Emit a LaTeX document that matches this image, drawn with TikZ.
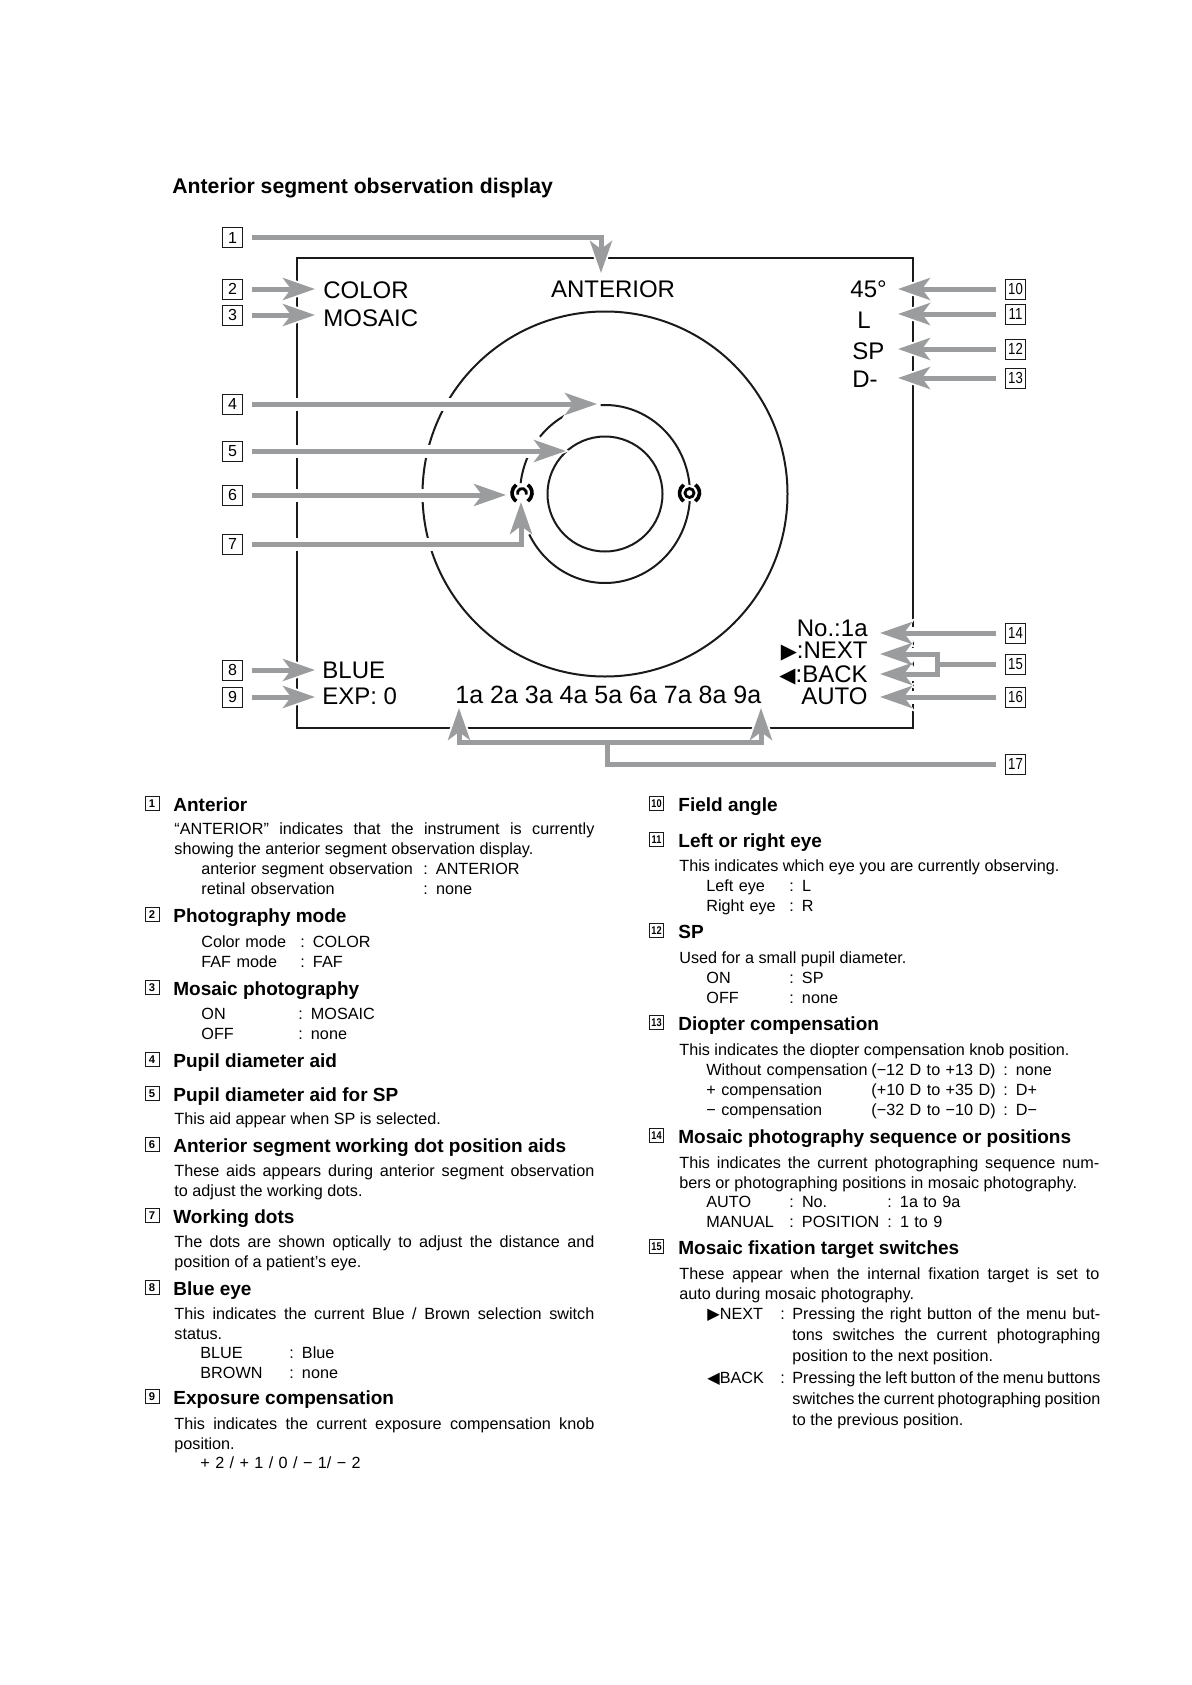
\documentclass[tikz,border=0pt]{standalone}
\usepackage{fontspec}
\setmainfont{Liberation Sans}
\newfontfamily\symfont{DejaVu Sans}
\usepackage{graphicx}
\usepackage{xcolor}
\usepackage{tikz}
\usetikzlibrary{arrows.meta,calc}
\definecolor{pointgray}{HTML}{9A9C9E}
\definecolor{ink}{HTML}{1A1A1A}
\newcommand{\fsz}[2]{\fontsize{#1}{#2}\selectfont}
\newcommand{\twodig}[1]{\scalebox{0.82}[1]{#1}}

\begin{document}
\begin{tikzpicture}[x=0.5pt,y=-0.5pt,
  numbox/.style={draw=ink,line width=0.5pt,minimum width=10pt,minimum height=10pt,inner sep=0pt,font=\fsz{8}{9}},
  secbox/.style={draw=ink,line width=0.5pt,minimum size=7pt,inner sep=0pt,anchor=south,font=\bfseries\fsz{5.6}{6}},
  screen/.style={inner sep=0pt,font=\fsz{12}{14}},
  head/.style={anchor=base west,inner sep=0pt,font=\bfseries\fsz{9.5}{11}},
  body/.style={anchor=base west,inner sep=0pt,text width=210pt,align=justify,font=\fsz{8.1}{10}},
  sub/.style={anchor=base west,inner sep=0pt,text width=200pt,align=left,font=\fsz{8.1}{10}},
  hang/.style={body,text width=154pt,font=\fsz{8.1}{10.5}},
  ring/.style={draw=ink,line width=1pt},
  halo/.style={draw=white,line width=6.5pt,shorten <=4.5pt,shorten >=-2pt,-{Stealth[length=19pt,width=14pt,inset=4pt]}},
  pointer/.style={draw=pointgray,line width=2.5pt,shorten <=4.5pt,-{Stealth[length=16pt,width=11pt,inset=4pt]}}]
  % page
  \fill[white] (0,0) rectangle (1191,1685);
  \useasboundingbox (0,0) rectangle (1191,1685);
  \node[anchor=base west,inner sep=0pt,font=\bfseries\fsz{10.6}{12}] (title) at (172,194) {Anterior segment observation display};

  % screen frame and rings
  \draw[draw=ink,line width=1.3pt] (297,258) rectangle (913,728);
  \coordinate (eye) at (605,494);
  \draw[ring] (eye) circle (182.5);
  \draw[ring] (eye) circle (57.5);
  \draw[ring] (eye) ++(-93:85 and 89) arc[start angle=-93,end angle=153,x radius=85,y radius=89];
  \draw[ring] (eye) ++(-140:85 and 89) arc[start angle=-140,end angle=-116,x radius=85,y radius=89];
  \draw[ring] (eye) ++(-173:85 and 89) arc[start angle=-173,end angle=-155,x radius=85,y radius=89];
  \coordinate (dotL) at (522,493);
  \coordinate (dotR) at (689.5,493);

  % callout numbers
  \node[numbox] (n1) at (232.5,238) {1};
  \node[numbox] (n2) at (232.5,289) {2};
  \node[numbox] (n3) at (232.5,315) {3};
  \node[numbox] (n4) at (232.5,404) {4};
  \node[numbox] (n5) at (232.5,451) {5};
  \node[numbox] (n6) at (232.5,495) {6};
  \node[numbox] (n7) at (232.5,544) {7};
  \node[numbox] (n8) at (232.5,670) {8};
  \node[numbox] (n9) at (232.5,697) {9};
  \node[numbox] (n10) at (1015.5,289) {\twodig{10}};
  \node[numbox] (n11) at (1015.5,314) {\twodig{11}};
  \node[numbox] (n12) at (1015.5,349) {\twodig{12}};
  \node[numbox] (n13) at (1015.5,378) {\twodig{13}};
  \node[numbox] (n14) at (1015.5,633) {\twodig{14}};
  \node[numbox] (n15) at (1015.5,664) {\twodig{15}};
  \node[numbox] (n16) at (1015.5,697) {\twodig{16}};
  \node[numbox] (n17) at (1015.5,764) {\twodig{17}};

  % arrow tips
  \coordinate (t1) at (601,273);
  \coordinate (t2) at (315,289);
  \coordinate (t3) at (315,315);
  \coordinate (t4) at (597,404);
  \coordinate (t5) at (566,451);
  \coordinate (t6) at (506,495);
  \coordinate (t7) at (521,502);
  \coordinate (t8) at (315,670);
  \coordinate (t9) at (315,697);
  \coordinate (t10) at (898,289);
  \coordinate (t11) at (898,314);
  \coordinate (t12) at (898,349);
  \coordinate (t13) at (898,378);
  \coordinate (t14) at (880,633);
  \coordinate (j15) at (937,664);
  \coordinate (t15a) at (880,654);
  \coordinate (t15b) at (880,674);
  \coordinate (t16) at (880,697);
  \coordinate (j17) at (607,742);
  \coordinate (t17a) at (459,708);
  \coordinate (t17b) at (761,708);

  % leaders: white gap first, grey arrow on top
  \foreach \layer in {halo,pointer}{
    \draw[\layer] (n1.east) -| (t1);
    \draw[\layer] (n2.east) -- (t2);
    \draw[\layer] (n3.east) -- (t3);
    \draw[\layer] (n4.east) -- (t4);
    \draw[\layer] (n5.east) -- (t5);
    \draw[\layer] (n6.east) -- (t6);
    \draw[\layer] (n7.east) -| (t7);
    \draw[\layer] (n8.east) -- (t8);
    \draw[\layer] (n9.east) -- (t9);
    \draw[\layer] (n10.west) -- (t10);
    \draw[\layer] (n11.west) -- (t11);
    \draw[\layer] (n12.west) -- (t12);
    \draw[\layer] (n13.west) -- (t13);
    \draw[\layer] (n14.west) -- (t14);
    \draw[\layer,-] (n15.west) -- (j15);
    \draw[\layer,shorten <=0pt] (j15) |- (t15a);
    \draw[\layer,shorten <=0pt] (j15) |- (t15b);
    \draw[\layer] (n16.west) -- (t16);
    \draw[\layer,-] (n17.west) -| (j17);
    \draw[\layer,shorten <=0pt] (j17) -| (t17a);
    \draw[\layer,shorten <=0pt] (j17) -| (t17b);
  }

  % working dots
  \draw[line width=1.8pt] (dotL) ++(125:10) arc[start angle=125,end angle=235,radius=10];
  \draw[line width=1.8pt] (dotL) ++(-55:10) arc[start angle=-55,end angle=55,radius=10];
  \draw[line width=1.4pt] (dotL) ++(20:4.5) arc[start angle=20,end angle=-200,radius=4.5];
  \fill[white] (dotR) circle (8);
  \draw[line width=1.8pt] (dotR) ++(125:10) arc[start angle=125,end angle=235,radius=10];
  \draw[line width=1.8pt] (dotR) ++(-55:10) arc[start angle=-55,end angle=55,radius=10];
  \draw[line width=1.4pt] (dotR) circle (4.5);

  % screen texts
  \node[screen,anchor=base] (anterior) at (613,297) {ANTERIOR};
  \node[screen,anchor=base west] (color) at (323,298) {COLOR};
  \node[screen,anchor=base west] (mosaic) at (323,326) {MOSAIC};
  \node[screen,anchor=base west] (angle) at (850,297) {45°};
  \node[screen,anchor=base west] (side) at (857,328) {L};
  \node[screen,anchor=base west] (smallp) at (852,359) {SP};
  \node[screen,anchor=base west] (diopter) at (852,387) {D-};
  \node[screen,anchor=base west] (blue) at (322,678) {BLUE};
  \node[screen,anchor=base west] (exp) at (322,704) {EXP: 0};
  \node[screen,anchor=base west,font=\fsz{12.5}{14}] (seq) at (455,703) {1a 2a 3a 4a 5a 6a 7a 8a 9a};
  \node[screen,anchor=base east] (no) at (868,636) {No.:1a};
  \node[screen,anchor=base east] (next) at (868,658) {{\symfont\fsz{10.5}{11}▶}:NEXT};
  \node[screen,anchor=base east] (back) at (868,682) {{\symfont\fsz{10.5}{11}◀}:BACK};
  \node[screen,anchor=base east] (auto) at (868,704) {AUTO};

  % key, left column
  \node[secbox] (s1) at (152,811) {1};
  \node[head] (h1) at (173,811) {Anterior};
  \node[body] (p1) at (174,834) {“ANTERIOR” indicates that the instrument is currently\linebreak showing the anterior segment observation display.};
  \node[sub] (q1) at (201,874) {\makebox[111pt][l]{anterior segment observation}: ANTERIOR\\\makebox[111pt][l]{retinal observation}: none};
  \node[secbox] (s2) at (152,922) {2};
  \node[head] (h2) at (173,922) {Photography mode};
  \node[sub] (q2) at (201,947) {\makebox[49.5pt][l]{Color mode}: COLOR\\\makebox[49.5pt][l]{FAF mode}: FAF};
  \node[secbox] (s3) at (152,995) {3};
  \node[head] (h3) at (173,995) {Mosaic photography};
  \node[sub] (q3) at (201,1019) {\makebox[48.5pt][l]{ON}: MOSAIC\\\makebox[48.5pt][l]{OFF}: none};
  \node[secbox] (s4) at (152,1067) {4};
  \node[head] (h4) at (173,1067) {Pupil diameter aid};
  \node[secbox] (s5) at (152,1101) {5};
  \node[head] (h5) at (173,1101) {Pupil diameter aid for SP};
  \node[body] (p5) at (174,1124) {This aid appear when SP is selected.};
  \node[secbox] (s6) at (152,1152) {6};
  \node[head] (h6) at (173,1152) {Anterior segment working dot position aids};
  \node[body] (p6) at (174,1176) {These aids appears during anterior segment observation\linebreak to adjust the working dots.};
  \node[secbox] (s7) at (152,1223) {7};
  \node[head] (h7) at (173,1223) {Working dots};
  \node[body] (p7) at (174,1247) {The dots are shown optically to adjust the distance and\linebreak position of a patient’s eye.};
  \node[secbox] (s8) at (152,1295) {8};
  \node[head] (h8) at (173,1295) {Blue eye};
  \node[body] (p8) at (174,1319) {This indicates the current Blue / Brown selection switch\linebreak status.};
  \node[sub] (q8) at (200,1358) {\makebox[44.5pt][l]{BLUE}: Blue\\\makebox[44.5pt][l]{BROWN}: none};
  \node[secbox] (s9) at (152,1404) {9};
  \node[head] (h9) at (173,1404) {Exposure compensation};
  \node[body] (p9) at (174,1429) {This indicates the current exposure compensation knob\linebreak position.};
  \node[sub] (q9) at (200,1468) {+ 2 / + 1 / 0 / − 1/ − 2};

  % key, right column
  \node[secbox] (s10) at (656.5,811) {\twodig{10}};
  \node[head] (h10) at (678,811) {Field angle};
  \node[secbox] (s11) at (656.5,847) {\twodig{11}};
  \node[head] (h11) at (678,847) {Left or right eye};
  \node[body] (p11) at (679,871) {This indicates which eye you are currently observing.};
  \node[sub] (q11) at (706,891) {\makebox[41.5pt][l]{Left eye}: L\\\makebox[41.5pt][l]{Right eye}: R};
  \node[secbox] (s12) at (656.5,938) {\twodig{12}};
  \node[head] (h12) at (678,938) {SP};
  \node[body] (p12) at (679,963) {Used for a small pupil diameter.};
  \node[sub] (q12) at (706,983) {\makebox[41.5pt][l]{ON}: SP\\\makebox[41.5pt][l]{OFF}: none};
  \node[secbox] (s13) at (656.5,1030) {\twodig{13}};
  \node[head] (h13) at (678,1030) {Diopter compensation};
  \node[body] (p13) at (679,1055) {This indicates the diopter compensation knob position.};
  \node[sub] (q13) at (706,1075) {\makebox[82.5pt][l]{Without compensation}\makebox[66pt][l]{(−12 D to +13 D)}: none\\\makebox[82.5pt][l]{+ compensation}\makebox[66pt][l]{(+10 D to +35 D)}: D+\\\makebox[82.5pt][l]{− compensation}\makebox[66pt][l]{(−32 D to −10 D)}: D−};
  \node[secbox] (s14) at (656.5,1143) {\twodig{14}};
  \node[head] (h14) at (678,1143) {Mosaic photography sequence or positions};
  \node[body] (p14) at (679,1168) {This indicates the current photographing sequence num-\linebreak bers or photographing positions in mosaic photography.};
  \node[sub] (q14) at (706,1207) {\makebox[41.5pt][l]{AUTO}\makebox[49pt][l]{: No.}: 1a to 9a\\\makebox[41.5pt][l]{MANUAL}\makebox[49pt][l]{: POSITION}: 1 to 9};
  \node[secbox] (s15) at (656.5,1254) {\twodig{15}};
  \node[head] (h15) at (678,1254) {Mosaic fixation target switches};
  \node[body] (p15) at (679,1279) {These appear when the internal fixation target is set to\linebreak auto during mosaic photography.};
  \node[sub] (k15a) at (707,1319) {\makebox[36.5pt][l]{{\symfont ▶}NEXT}:};
  \node[hang] (r15a) at (792,1319) {Pressing the right button of the menu but-\linebreak tons switches the current photographing\linebreak position to the next position.};
  \node[sub] (k15b) at (707,1383) {\makebox[36.5pt][l]{{\symfont ◀}BACK}:};
  \node[hang] (r15b) at (792,1383) {Pressing the left button of the menu buttons\linebreak switches the current photographing position\linebreak to the previous position.};
\end{tikzpicture}
\end{document}
